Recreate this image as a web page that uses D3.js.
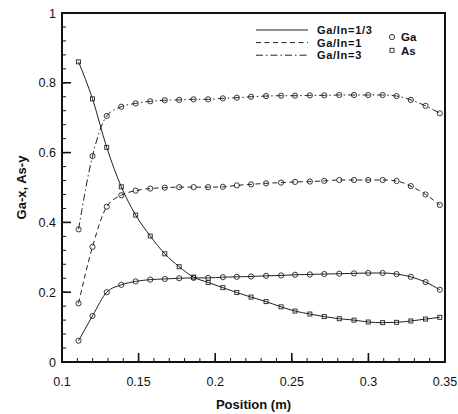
<!DOCTYPE html>
<html><head><meta charset="utf-8">
<script src="https://cdn.jsdelivr.net/npm/d3@7/dist/d3.min.js"></script>
<style>body{margin:0;background:#fff}svg{display:block}text{font-family:"Liberation Sans",Arial,sans-serif;fill:#111}</style>
</head><body><svg id="c" width="458" height="414"></svg>
<script>
const positions = [0.1108,0.1199,0.1292,0.1387,0.1481,0.1576,0.1671,0.1765,0.1859,0.1954,0.2050,0.2141,0.2234,0.2332,0.2430,0.2521,0.2618,0.2712,0.2810,0.2906,0.2999,0.3093,0.3184,0.3277,0.3373,0.3466];
const gaThird = [0.061,0.132,0.200,0.221,0.231,0.236,0.238,0.240,0.241,0.241,0.243,0.244,0.245,0.247,0.248,0.250,0.251,0.252,0.253,0.254,0.255,0.255,0.252,0.244,0.229,0.207];
const gaOne = [0.168,0.330,0.445,0.478,0.491,0.497,0.4995,0.501,0.501,0.501,0.502,0.506,0.509,0.512,0.514,0.516,0.517,0.519,0.5215,0.5215,0.5215,0.5215,0.5186,0.504,0.480,0.450];
const gaThree = [0.380,0.590,0.705,0.7315,0.741,0.747,0.750,0.751,0.7527,0.7527,0.7555,0.7573,0.760,0.762,0.763,0.763,0.764,0.764,0.765,0.765,0.765,0.765,0.762,0.751,0.734,0.7125];
const asY = [0.860,0.754,0.615,0.502,0.421,0.361,0.310,0.273,0.243,0.228,0.213,0.199,0.186,0.173,0.158,0.146,0.1375,0.130,0.124,0.120,0.1146,0.1127,0.1137,0.1175,0.123,0.128];
const xTicks = [0.1,0.15,0.2,0.25,0.3,0.35];
const xTickLabels = ["0.1","0.15","0.2","0.25","0.3","0.35"];
const yTicks = [0,0.2,0.4,0.6,0.8,1];
const yTickLabels = ["0","0.2","0.4","0.6","0.8","1"];
const seriesNames = ["Ga/In=1/3","Ga/In=1","Ga/In=3"];
const markerNames = ["Ga","As"];

const L=62,R=445,T=13,B=362;
const svg=d3.select("#c");
const x=d3.scaleLinear().domain([0.1,0.35]).range([L,R]);
const y=d3.scaleLinear().domain([0,1]).range([B,T]);
const dashes=[null,"5,3.5","7,3,1.5,3"];

const xMinor=d3.range(0.1,0.3501,0.01);
const yMinor=d3.range(0,1.0001,0.04);
const g=svg.append("g").attr("stroke","#111");
g.selectAll(".xm").data(xMinor).join("line").attr("x1",d=>x(d)).attr("x2",d=>x(d)).attr("y1",B).attr("y2",B-4).attr("stroke-width",1);
g.selectAll(".ym").data(yMinor).join("line").attr("y1",d=>y(d)).attr("y2",d=>y(d)).attr("x1",L).attr("x2",L+4).attr("stroke-width",1);
g.selectAll(".xM").data(xTicks).join("line").attr("x1",d=>x(d)).attr("x2",d=>x(d)).attr("y1",B).attr("y2",B-9).attr("stroke-width",1.6);
g.selectAll(".yM").data(yTicks).join("line").attr("y1",d=>y(d)).attr("y2",d=>y(d)).attr("x1",L).attr("x2",L+9).attr("stroke-width",1.6);

svg.append("rect").attr("x",L).attr("y",T).attr("width",R-L).attr("height",B-T).attr("fill","none").attr("stroke","#111").attr("stroke-width",2);

svg.selectAll(".xl").data(xTicks).join("text").attr("x",d=>x(d)).attr("y",386).attr("text-anchor","middle").attr("font-size",12.5).text((d,i)=>xTickLabels[i]);
svg.selectAll(".yl").data(yTicks).join("text").attr("x",56).attr("y",d=>y(d)+4.5).attr("text-anchor","end").attr("font-size",12.5).text((d,i)=>yTickLabels[i]);
svg.append("text").attr("x",(L+R)/2).attr("y",409).attr("text-anchor","middle").attr("font-size",13).attr("font-weight","bold").text("Position (m)");
svg.append("text").attr("transform",`translate(26,${(T+B)/2}) rotate(-90)`).attr("text-anchor","middle").attr("font-size",13).attr("font-weight","bold").text("Ga-x, As-y");

const line=d3.line().x((d,i)=>x(positions[i])).y(d=>y(d)).curve(d3.curveMonotoneX);
const gaSeries=[gaThird,gaOne,gaThree];
const plot=svg.append("g");
plot.append("path").attr("d",line(asY)).attr("fill","none").attr("stroke","#222").attr("stroke-width",1);
gaSeries.forEach((s,k)=>{
  plot.append("path").attr("d",line(s)).attr("fill","none").attr("stroke","#222").attr("stroke-width",1).attr("stroke-dasharray",dashes[k]);
});
gaSeries.forEach(s=>{
  plot.selectAll(null).data(s).join("circle").attr("cx",(d,i)=>x(positions[i])).attr("cy",d=>y(d)).attr("r",2.6).attr("fill","none").attr("stroke","#222").attr("stroke-width",0.9);
});
plot.selectAll(null).data(asY).join("rect").attr("x",(d,i)=>x(positions[i])-2).attr("y",d=>y(d)-2).attr("width",4).attr("height",4).attr("fill","none").attr("stroke","#222").attr("stroke-width",0.9);

// legend
const lg=svg.append("g");
const ly=[30,42.6,55.2];
seriesNames.forEach((n,k)=>{
  lg.append("line").attr("x1",256).attr("x2",308).attr("y1",ly[k]).attr("y2",ly[k]).attr("stroke","#222").attr("stroke-width",1).attr("stroke-dasharray",dashes[k]);
  lg.append("text").attr("x",317).attr("y",ly[k]+4).attr("font-size",11).attr("font-weight","bold").attr("letter-spacing",0.7).text(n);
});
lg.append("circle").attr("cx",392).attr("cy",37).attr("r",2.6).attr("fill","none").attr("stroke","#222").attr("stroke-width",0.9);
lg.append("rect").attr("x",390).attr("y",48.3).attr("width",4).attr("height",4).attr("fill","none").attr("stroke","#222").attr("stroke-width",0.9);
lg.append("text").attr("x",401).attr("y",41.2).attr("font-size",11.5).attr("font-weight","bold").text(markerNames[0]);
lg.append("text").attr("x",401).attr("y",54.6).attr("font-size",11.5).attr("font-weight","bold").text(markerNames[1]);
</script></body></html>
